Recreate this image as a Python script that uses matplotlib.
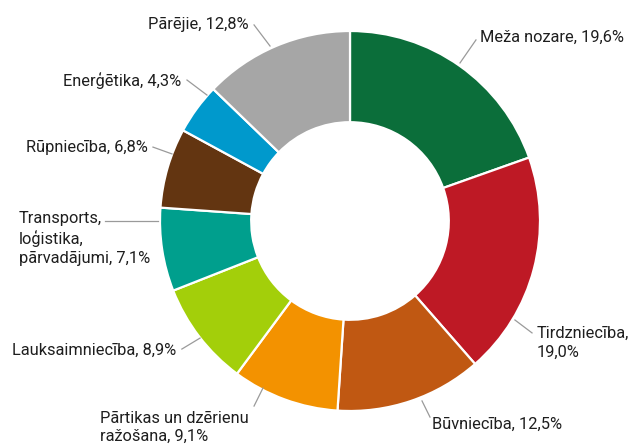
import matplotlib
matplotlib.use('Agg')
import matplotlib.pyplot as plt

# sector data (clockwise from top)
labels = ['Meža nozare, 19,6%', 'Tirdzniecība,\n19,0%', 'Būvniecība, 12,5%',
          'Pārtikas un dzērienu\nražošana, 9,1%', 'Lauksaimniecība, 8,9%',
          'Transports,\nloģistika,\npārvadājumi, 7,1%', 'Rūpniecība, 6,8%',
          'Enerģētika, 4,3%', 'Pārējie, 12,8%']
values = [19.6, 19.0, 12.5, 9.1, 8.9, 7.1, 6.8, 4.3, 12.8]
colors = ['#0b6e3a', '#be1925', '#c05812', '#f39200', '#a3cf0a',
          '#009f8d', '#633511', '#0099cc', '#a6a6a6']

# leader lines: start on ring, end near text; text position and alignment
line_start = [(0.579, 0.832), (0.868, -0.521), (0.379, -0.947), (-0.458, -0.879),
              (-0.789, -0.616), (-1.010, 0.0), (-0.937, 0.353), (-0.753, 0.663),
              (-0.421, 0.921)]
line_end = [(0.663, 0.953), (0.958, -0.589), (0.421, -1.032), (-0.505, -0.974),
            (-0.885, -0.674), (-1.289, 0.0), (-1.037, 0.389), (-0.858, 0.742),
            (-0.505, 1.032)]
text_pos = [(0.684, 0.968, 'left', 'center'), (0.984, -0.553, 'left', 'top'),
            (0.432, -1.072, 'left', 'center'), (-1.316, -1.0, 'left', 'top'),
            (-0.915, -0.679, 'right', 'center'), (-1.742, 0.052, 'left', 'top'),
            (-1.063, 0.389, 'right', 'center'), (-0.89, 0.742, 'right', 'center'),
            (-0.532, 1.032, 'right', 'center')]
spacing = [1.3, 1.3, 1.3, 1.2, 1.3, 1.3, 1.3, 1.3, 1.3]

plt.rcParams['font.family'] = ['Roboto', 'DejaVu Sans']

fig = plt.figure(figsize=(6.3, 4.46), dpi=100)
ax = fig.add_axes([0, 0, 1, 1])
ax.pie(values, colors=colors, startangle=90, counterclock=False, radius=1,
       wedgeprops=dict(width=0.48, edgecolor='white', linewidth=1.6))

for i in range(len(labels)):
    (x0, y0), (x1, y1) = line_start[i], line_end[i]
    ax.plot([x0, x1], [y0, y1], color='#9a9a9a', lw=0.9)
    tx, ty, ha, va = text_pos[i]
    ax.text(tx, ty, labels[i], ha=ha, va=va, fontsize=11.8, color='#1e1e1e',
            linespacing=spacing[i])

ax.set_xlim(-350 / 190, 280 / 190)
ax.set_ylim(-225 / 190, 221 / 190)
ax.set_aspect('equal')
ax.axis('off')

fig.savefig('out.png', dpi=100)
